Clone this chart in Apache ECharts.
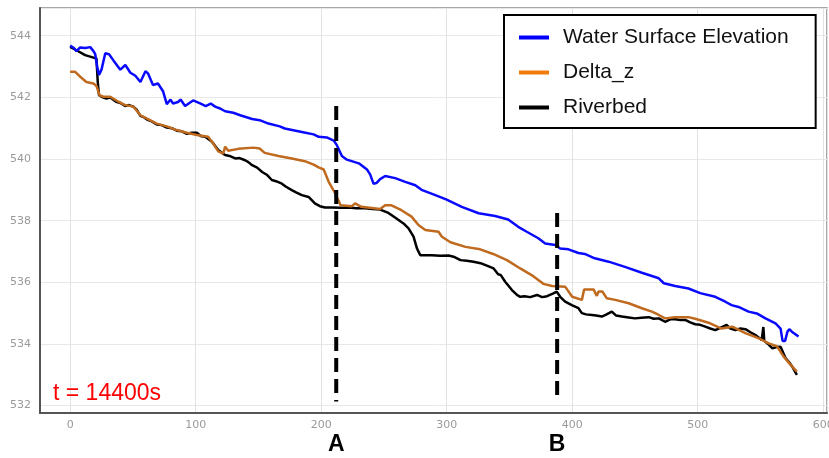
<!DOCTYPE html>
<html>
<head>
<meta charset="utf-8">
<script src="https://cdn.jsdelivr.net/npm/echarts@6/dist/echarts.min.js"></script>
<style>
  html, body { margin: 0; padding: 0; background: #fff; }
  #profile-chart { width: 829px; height: 458px; }
</style>
</head>
<body>
<div id="profile-chart"></div>
<script>
// distance along reach vs elevation
const waterSurface = [
  [0, 543.68], [3, 543.6], [5, 543.5], [8, 543.62], [12, 543.6], [16, 543.63], [18.6, 543.5],
  [20, 543.4], [21.5, 543.0], [23, 542.73], [25, 542.9], [28, 543.43], [31, 543.4], [34.5, 543.2],
  [40, 542.9], [44, 543.05], [48, 542.8], [52, 542.7], [56, 542.5], [60, 542.85], [62, 542.78],
  [66, 542.4], [70, 542.45], [74, 542.2], [77, 541.78], [80, 541.93], [82, 541.8], [86, 541.85],
  [88, 541.93], [91.6, 541.72], [95, 541.82], [98, 541.9], [104, 541.8], [108, 541.72], [112, 541.8],
  [115.5, 541.7], [119.5, 541.64], [123.5, 541.55], [130, 541.5], [135.5, 541.42], [145, 541.3],
  [151, 541.26], [158, 541.15], [167, 541.06], [171, 540.99], [184.6, 540.88], [194, 540.8],
  [198, 540.72], [204.5, 540.7], [210, 540.6], [212.5, 540.45], [216.5, 540.1], [220.5, 539.98],
  [230, 539.86], [236.5, 539.66], [239, 539.5], [241.7, 539.2], [244, 539.22], [247, 539.35],
  [251, 539.45], [259, 539.38], [267, 539.26], [275, 539.15], [280, 539.0], [291, 538.83],
  [300, 538.68], [312, 538.45], [325.5, 538.24], [338.6, 538.15], [349, 538.04], [357, 537.8],
  [363.8, 537.64], [373, 537.43], [378.5, 537.26], [386.5, 537.21], [390.4, 537.1], [397, 537.07],
  [405, 536.95], [410, 536.92], [418, 536.78], [429, 536.67], [442, 536.5], [455.5, 536.31],
  [469, 536.13], [473, 535.97], [482, 535.88], [492.6, 535.8], [502, 535.65], [514, 535.53],
  [522, 535.37], [527, 535.26], [532.5, 535.2], [540.5, 535.05], [547, 534.99], [554, 534.83],
  [562, 534.67], [566, 534.5], [567.6, 534.1], [569.6, 534.1], [571.5, 534.4], [573, 534.48],
  [575, 534.4], [580.3, 534.24]
];

const deltaZ = [
  [0, 542.83], [4, 542.83], [8, 542.67], [13, 542.5], [18.6, 542.45], [21, 542.37], [23.4, 542.07],
  [26.5, 542.02], [32, 542.02], [38.5, 541.86], [43.8, 541.75], [50.4, 541.7], [56, 541.42],
  [61.3, 541.31], [69, 541.15], [77, 541.06], [85, 540.94], [93, 540.85], [101, 540.78], [110, 540.72],
  [114, 540.5], [118, 540.25], [122, 540.18], [123.5, 540.4], [126, 540.27], [134, 540.33],
  [146, 540.37], [151, 540.34], [155, 540.2], [166, 540.1], [176.6, 540.02], [187, 539.93],
  [194, 539.82], [198, 539.73], [202, 539.66], [206, 539.26], [211, 538.9], [215.5, 538.5],
  [224.5, 538.47], [227, 538.56], [232, 538.45], [247, 538.38], [251, 538.5], [256, 538.5],
  [264, 538.34], [272, 538.13], [277.5, 537.86], [283, 537.7], [293.5, 537.64], [296.2, 537.48],
  [303, 537.3], [315, 537.15], [326.7, 537.07], [337, 536.92], [348, 536.72], [358.6, 536.45],
  [369, 536.2], [377, 535.95], [384, 535.88], [394.4, 535.86], [400, 535.53], [407.7, 535.43],
  [409.5, 535.77], [417, 535.77], [419.6, 535.56], [421, 535.7], [424, 535.7], [427.6, 535.48],
  [434.3, 535.43], [445, 535.32], [455.5, 535.16], [463.5, 535.05], [469, 534.94], [474, 534.83],
  [482, 534.87], [492.6, 534.87], [498, 534.82], [508.6, 534.69], [519, 534.5], [527.5, 534.56],
  [538, 534.35], [548.7, 534.18], [556.6, 534.02], [563, 533.93], [568.5, 533.59], [574, 533.32],
  [579, 533.1]
];

const riverbed = [
  [0, 543.64], [5, 543.53], [12, 543.37], [18.6, 543.29], [21, 543.26], [22, 542.5], [23, 542.07],
  [26, 542.0], [29, 541.96], [32, 542.0], [36.6, 541.86], [40, 541.82], [43.8, 541.72], [47, 541.75],
  [50.4, 541.7], [53, 541.6], [56, 541.4], [59, 541.35], [61.3, 541.28], [65, 541.22], [69, 541.12],
  [73, 541.1], [77, 541.02], [81, 541.0], [85, 540.92], [89, 540.9], [93, 540.82], [97, 540.85],
  [101, 540.85], [104, 540.75], [107.6, 540.72], [113, 540.56], [118, 540.29], [121, 540.2],
  [123.5, 540.13], [127, 540.1], [131.5, 540.02], [135, 540.03], [139.4, 539.96], [142, 539.9],
  [145, 539.8], [149, 539.72], [153, 539.58], [157, 539.48], [160.7, 539.32], [164, 539.28],
  [168.7, 539.2], [172, 539.1], [176.6, 538.99], [180, 538.92], [184.6, 538.83], [190, 538.77],
  [195, 538.56], [199, 538.47], [203, 538.43], [208.5, 538.43], [215, 538.42], [222, 538.43],
  [228, 538.4], [235, 538.4], [241, 538.38], [247, 538.36], [253.6, 538.25], [260, 538.07],
  [265.6, 537.91], [269.6, 537.75], [273.6, 537.48], [276.3, 537.1], [279, 536.88], [288, 536.88],
  [295, 536.86], [301.5, 536.87], [305.5, 536.83], [311, 536.72], [316, 536.7], [321.4, 536.67],
  [327, 536.62], [332, 536.54], [337.4, 536.45], [341, 536.26], [343, 536.24], [346.6, 536.02],
  [348, 535.97], [352, 535.75], [356, 535.59], [358.6, 535.53], [362, 535.55], [366.5, 535.52],
  [372, 535.59], [376, 535.52], [380, 535.55], [385, 535.64], [387.7, 535.7], [390.4, 535.53],
  [394.4, 535.37], [399.7, 535.26], [405, 535.16], [407.7, 535.0], [411, 534.96], [415.7, 534.94],
  [419, 534.92], [423.6, 534.89], [427, 534.95], [431.6, 535.05], [435, 534.92], [439.6, 534.89],
  [445, 534.86], [450, 534.83], [455, 534.85], [461, 534.87], [465, 534.82], [469, 534.83],
  [474, 534.72], [478, 534.8], [482, 534.8], [486, 534.78], [490, 534.78], [494, 534.7],
  [498, 534.64], [502, 534.62], [506, 534.56], [510, 534.5], [514, 534.45], [518, 534.52],
  [523, 534.62], [526, 534.5], [530, 534.45], [534, 534.5], [538, 534.48], [542, 534.38],
  [546, 534.29], [551, 534.13], [552.3, 534.55], [553, 534.1], [556, 534.0], [559.5, 533.86],
  [563, 533.9], [566, 533.91], [570, 533.54], [573, 533.4], [575.4, 533.26], [579, 533.0]
];

// section markers A and B
const sectionA = [[212, 541.72], [212, 532.13]];
const sectionB = [[388, 538.25], [388, 532.13]];
const sectionNames = ['A', 'B'];
const sectionX = [212, 388];

const xTicks = [0, 100, 200, 300, 400, 500, 600];
const yTicks = [532, 534, 536, 538, 540, 542, 544];

const chartDom = document.getElementById('profile-chart');
const myChart = echarts.init(chartDom);

const option = {
  animation: false,
  grid: {
    left: 40, top: 8, right: 2, bottom: 45,
    containLabel: false, outerBoundsMode: 'none',
    show: true, borderColor: '#8c8c8c', borderWidth: 1.5
  },
  legend: {
    orient: 'vertical',
    left: 504, top: 15,
    padding: [12, 27, 10, 15],
    itemWidth: 30, itemHeight: 4, itemGap: 14,
    icon: 'rect',
    backgroundColor: '#fff',
    borderColor: '#000', borderWidth: 2,
    textStyle: { fontFamily: 'Liberation Sans, Arial', fontSize: 21, color: '#111', padding: [0, 0, 0, 9] },
    data: [
      { name: 'Water Surface Elevation', itemStyle: { color: '#0000ff' } },
      { name: 'Delta_z', itemStyle: { color: '#f07d0a' } },
      { name: 'Riverbed', itemStyle: { color: '#000' } }
    ]
  },
  xAxis: {
    type: 'value', min: -24, max: 603, splitNumber: 6,
    axisLine: { show: true, onZero: false, lineStyle: { color: '#555', width: 2 } },
    axisTick: { show: false },
    axisLabel: {
      color: '#9a9a9a', fontSize: 11, fontFamily: 'DejaVu Sans', margin: 7,
      formatter: (v) => (xTicks.includes(v) ? String(v) : '')
    },
    splitLine: { show: true, lineStyle: { color: '#e2e2e2', width: 1 } }
  },
  yAxis: {
    type: 'value', min: 531.76, max: 544.9, splitNumber: 6,
    axisLine: { show: true, onZero: false, lineStyle: { color: '#555', width: 2 } },
    axisTick: { show: false },
    axisLabel: {
      color: '#9a9a9a', fontSize: 11, fontFamily: 'DejaVu Sans', margin: 9,
      formatter: (v) => (yTicks.includes(Math.round(v * 100) / 100) ? String(Math.round(v)) : '')
    },
    splitLine: { show: true, lineStyle: { color: '#e8e8e8', width: 1 } }
  },
  series: [
    {
      name: 'Water Surface Elevation', type: 'line', data: waterSurface, showSymbol: false,
      lineStyle: { color: '#0a0aff', width: 2.5 }, itemStyle: { color: '#0a0aff' }, z: 4
    },
    {
      name: 'Delta_z', type: 'line', data: deltaZ, showSymbol: false,
      lineStyle: { color: '#bf6a1e', width: 2.5 }, itemStyle: { color: '#bf6a1e' }, z: 3
    },
    {
      name: 'Riverbed', type: 'line', data: riverbed, showSymbol: false,
      lineStyle: { color: '#000', width: 2.5 }, itemStyle: { color: '#000' }, z: 2
    },
    {
      name: 'A', type: 'line', data: sectionA, showSymbol: false, silent: true,
      lineStyle: { color: '#000', width: 4, type: [14, 7] }, z: 5
    },
    {
      name: 'B', type: 'line', data: sectionB, showSymbol: false, silent: true,
      lineStyle: { color: '#000', width: 4, type: [14, 7] }, z: 5
    }
  ],
  graphic: [
    {
      type: 'text', left: 53, top: 382, z: 100,
      style: { text: 't = 14400s', fill: '#ff0000', font: '23px "Liberation Sans", Arial' }
    }
  ]
};

myChart.setOption(option);

// put the A / B letters under the axis at the section positions
const letters = sectionNames.map((name, i) => {
  const px = myChart.convertToPixel({ xAxisIndex: 0 }, sectionX[i]);
  return {
    type: 'text', x: px, y: 433, z: 100,
    style: { text: name, fill: '#000', font: 'bold 23px "Liberation Sans", Arial', align: 'center' }
  };
});
myChart.setOption({ graphic: option.graphic.concat(letters) });
</script>
</body>
</html>
